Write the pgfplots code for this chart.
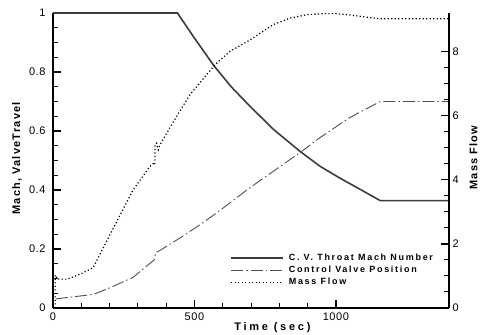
\documentclass[border=0pt]{standalone}
\usepackage{fontspec}
\setmainfont{Liberation Sans}
\newfontfamily\ticksf[LetterSpace=5]{Liberation Sans}
\newfontfamily\labsf[LetterSpace=11]{Liberation Sans}
\newfontfamily\timesf[LetterSpace=25]{Liberation Sans}
\newfontfamily\legsf[LetterSpace=19]{Liberation Sans}
\usepackage{pgfplots}
\pgfplotsset{compat=1.18}
\definecolor{machc}{HTML}{3C3C3C}
\definecolor{valvec}{HTML}{505050}
\definecolor{flowc}{HTML}{000000}
\tikzset{
  machsty/.style={color=machc, line width=1.6pt},
  valvesty/.style={color=valvec, line width=0.9pt, dash pattern=on 12pt off 3pt on 1.5pt off 3pt},
  flowsty/.style={color=flowc, line width=1.2pt, dash pattern=on 1.2pt off 2.3pt},
}
\pgfplotsset{
  common/.style={
    width=396pt, height=295pt, scale only axis,
    xmin=0, xmax=1400,
    clip=false,
    tick align=inside,
    major tick length=8pt, minor tick length=5pt,
    every tick/.style={black, line width=1.3pt},
    minor tick style={line width=1pt},
    /pgf/number format/assume math mode=true,
    /pgf/number format/1000 sep={},
    tick label style={font=\fontsize{11}{13}\selectfont\ticksf},
    axis line style={line width=1.6pt, black},
  }
}
\begin{document}
\begin{tikzpicture}
\begin{axis}[common, name=ax,
  axis x line*=bottom, axis y line*=left,
  ymin=0, ymax=1,
  xtick={0,500,1000}, minor x tick num=4,
  ytick={0,0.2,0.4,0.6,0.8,1}, minor y tick num=3,
  yticklabel style={xshift=-4pt},
  xticklabel style={yshift=-1pt},
  xlabel={Time (sec)},
  xlabel style={font=\fontsize{11}{13}\selectfont\timesf\bfseries, at={(axis description cs:0.554,-0.068)}, anchor=center},
  ylabel={Mach, ValveTravel},
  ylabel style={font=\fontsize{11}{13}\selectfont\labsf\bfseries, at={(axis description cs:-0.091,0.507)}, anchor=center},
]
\addplot[machsty] coordinates {
(0,1) (440,1) (495,0.922) (569,0.821) (630,0.75) (695,0.685) (780,0.605)
(872,0.532) (943,0.481) (1013,0.441) (1090,0.40) (1157,0.364) (1400,0.364)
};
\addplot[valvesty] coordinates {
(10,0.031) (143,0.046) (200,0.068) (283,0.104) (358,0.163) (360,0.17) (363,0.188)
(378,0.195) (450,0.238) (519,0.282) (578,0.322) (695,0.407) (872,0.526)
(943,0.577) (1048,0.645) (1157,0.70) (1400,0.70)
};
\end{axis}
\begin{axis}[common,
  axis x line=none, axis y line*=right,
  ymin=0, ymax=9.2,
  ytick={0,2,4,6,8}, minor y tick num=3,
  ylabel={Mass Flow},
  ylabel style={font=\fontsize{11}{13}\selectfont\labsf\bfseries, at={(axis description cs:1.062,0.51)}, anchor=center},
  legend style={draw=none, fill=none, at={(axis description cs:0.447,0.19)}, anchor=north west,
    inner sep=0pt, row sep=0pt, column sep=4pt,
    nodes={inner sep=1pt, anchor=west, text height=7.5pt, text depth=2.5pt},
    font=\fontsize{9}{10}\selectfont\legsf\bfseries},
  legend cell align=left,
  legend image code/.code={\draw[#1] (0pt,0pt) -- (52pt,0pt);},
]
\addlegendimage{machsty}
\addlegendentry{C. V. Throat Mach Number}
\addlegendimage{valvesty}
\addlegendentry{Control Valve Position}
\addplot[flowsty] coordinates {
(8,0) (8,1.03) (15,0.9) (50,0.9) (100,1.07) (142,1.26) (201,2.28) (283,3.68)
(342,4.41) (354,4.5) (360,4.46) (361,5.09) (366,5.14) (372,4.93) (378,5.09)
(425,5.8) (484,6.65) (572,7.58) (625,8.0) (695,8.35) (777,8.83) (837,9.04)
(900,9.15) (960,9.18) (1000,9.18) (1048,9.14) (1100,9.08) (1157,9.02) (1400,9.02)
};
\addlegendentry{Mass Flow}
\end{axis}
\pgfresetboundingbox
\path[use as bounding box] ([shift={(-53pt,-27pt)}]ax.south west) rectangle ([shift={(427pt,308pt)}]ax.south west);
\end{tikzpicture}
\end{document}
